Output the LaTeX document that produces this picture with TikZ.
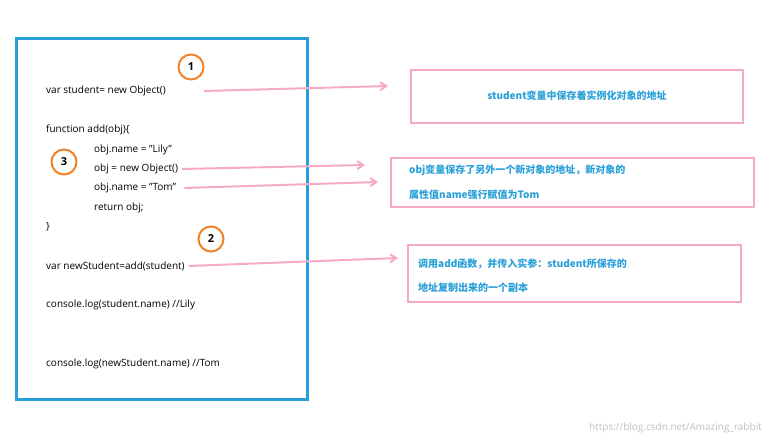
\documentclass[tikz,border=0pt]{standalone}
\usepackage{fontspec}
\setmainfont{Open Sans}
\newfontfamily\cjk{Noto Sans CJK SC}
\usetikzlibrary{arrows.meta, positioning}
\definecolor{codeblue}{RGB}{40,160,215}
\definecolor{notepink}{RGB}{245,170,200}
\definecolor{markorange}{RGB}{240,130,40}
\tikzset{code/.style={anchor=west, inner sep=0pt, font=\fontsize{10}{12}\selectfont}}
\tikzset{note/.style={draw=notepink, line width=2pt}}
\tikzset{notetext/.style={anchor=west, inner sep=0pt, text=codeblue, font=\cjk\bfseries\fontsize{10}{12}\selectfont}}
\tikzset{stepmark/.style={draw=markorange, circle, line width=2pt, minimum size=25pt, inner sep=0pt, font=\bfseries\fontsize{11}{12}\selectfont}}
\tikzset{link/.style={color=notepink, line width=2pt, -{Straight Barb[length=6pt, width=8pt]}}}
\begin{document}
\begin{tikzpicture}[x=1pt, y=-1pt]
        \useasboundingbox (0,0) rectangle (771,446);
        \draw[codeblue, line width=3pt] (16,39) rectangle (307,399);

        \node[code] (L1) at (46, 91) {var student= new Object()};
        \node[code] (L2) at (46,130) {function add(obj)\{};
        \node[code] (L3) at (94,150) {obj.name = "Lily"};
        \node[code] (L4) at (94,169) {obj = new Object()};
        \node[code] (L5) at (94,188) {obj.name = "Tom"};
        \node[code] (L6) at (94,208) {return obj;};
        \node[code] (L7) at (46,227) {\}};
        \node[code] (L8) at (46,266) {var newStudent=add(student)};
        \node[code] (L9) at (46,305) {console.log(student.name) //Lily};
        \node[code] (L10) at (46,364) {console.log(newStudent.name) //Tom};

        \node[stepmark] (M1) at (191, 67) {1};
        \node[stepmark] (M3) at (64,162) {3};
        \node[stepmark] (M2) at (211,239) {2};

        \draw[note] (411,70) rectangle (743,123);
        \draw[note] (391,158) rectangle (754,207);
        \draw[note] (408,245) rectangle (741,302);

        \node[notetext, anchor=center] (T1) at (577,96) {student变量中保存着实例化对象的地址};
        \node[notetext] (T2a) at (409,170) {obj变量保存了另外一个新对象的地址，新对象的};
        \node[notetext] (T2b) at (409,195) {属性值name强行赋值为Tom};
        \node[notetext] (T3a) at (418,264) {调用add函数，并传入实参：student所保存的};
        \node[notetext] (T3b) at (418,288) {地址复制出来的一个副本};

        \coordinate (A1) at (388,86);
        \coordinate (A2) at (365,165);
        \coordinate (A3) at (378,182);
        \coordinate (A4) at (398,258);
        \draw[link] ([xshift=38pt]L1.east) -- (A1);
        \draw[link] ([xshift=4pt]L4.east) -- (A2);
        \draw[link] ([xshift=8pt]L5.east) -- (A3);
        \draw[link] ([xshift=4pt]L8.east) -- (A4);

        \node[anchor=east, inner sep=0pt, text=black!25, font=\fontsize{10}{12}\selectfont] (W) at (762,428) {https://blog.csdn.net/Amazing\_rabbit};
\end{tikzpicture}
\end{document}
